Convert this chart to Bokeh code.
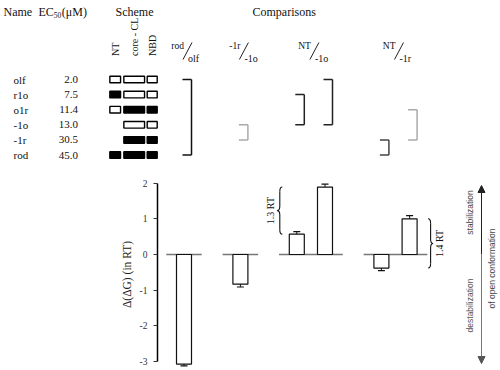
import numpy as np
from bokeh.plotting import figure
from bokeh.models import Range1d, FixedTicker, Arrow, NormalHead
from bokeh.core.properties import value
from bokeh.embed import file_html
from bokeh.resources import INLINE

# ---------------- data ----------------
names = ["olf", "r1o", "o1r", "-1o", "-1r", "rod"]
ec50 = ["2.0", "7.5", "11.4", "13.0", "30.5", "45.0"]
scheme_cols = ["NT", "core - CL", "NBD"]
scheme_nt = ["o", "r", "o", "", "", "r"]       # o = open box, r = filled box, "" = absent
scheme_core = ["o", "o", "r", "o", "r", "r"]
scheme_nbd = ["o", "o", "r", "o", "r", "r"]

comp_num = ["rod", "-1r", "NT", "NT"]
comp_den = ["olf", "-1o", "-1o", "-1r"]
bar_group = [0, 1, 2, 2, 3, 3]
bar_pos = [0, 2, 4, 5, 7, 8]
ddg = [-3.07, -0.83, 0.57, 1.89, -0.38, 1.00]
ddg_err = [0.05, 0.08, 0.07, 0.08, 0.07, 0.09]
bar_rows = [(0, 5), (3, 4), (1, 3), (0, 3), (4, 5), (2, 4)]
y_ticks = [-3, -2, -1, 0, 1, 2]
brace_bars = [(2, 3), (4, 5)]
brace_labels = ["1.3 RT", "1.4 RT"]

# ---------------- layout helpers ----------------
UNIT = 28.2      # px per bar-position unit
X0 = 183.5       # page x of bar position 0
ROW0 = 79.0
ROWH = 15.1
YPX = 35.7       # px per RT
Y0 = 254.0       # page y of zero
W_ALL = 498
H_TOP = 176
H_BOT = 192


def ux(px):
    return (px - X0) / UNIT


def ry(py):
    return -(py - ROW0) / ROWH


def vy(py):
    return (Y0 - py) / YPX


SERIF = value("Liberation Serif")
SANS = value("Liberation Sans")
BW = 15.0 / UNIT

# ---------------- top figure (table / scheme / comparisons) ----------------
top = figure(width=W_ALL, height=H_TOP, x_range=Range1d(ux(0), ux(W_ALL)),
             y_range=Range1d(ry(H_TOP), ry(0)), output_backend="svg",
             toolbar_location=None, x_axis_location=None, y_axis_location=None,
             min_border=0)
top.outline_line_color = None
for g in top.grid:
    g.visible = False


def ttext(fig, x, y, t, size="11px", align="left", baseline="middle", angle=0.0,
          font=SERIF, color="#111111"):
    fig.text(x=[x], y=[y], text=[t], text_font=font, text_font_size=size,
             text_align=align, text_baseline=baseline, angle=angle, text_color=color)


# headers
ttext(top, ux(3), ry(11), "Name", size="12px")
ttext(top, ux(38), ry(11), "EC", size="12px")
ttext(top, ux(38 + 15.3), ry(14), "50", size="7.5px")
ttext(top, ux(38 + 15.3 + 8.0), ry(11), "(μM)", size="12px")
ttext(top, ux(115), ry(11), "Scheme", size="12px")
ttext(top, ux(252), ry(11), "Comparisons", size="12px")

# scheme column geometry (page px)
col_cx = [114.7, 133.7, 151.7]
col_w = [10.7, 20.7, 10.0]
col_data = [scheme_nt, scheme_core, scheme_nbd]

for k, lab in enumerate(scheme_cols):
    ttext(top, ux(col_cx[k]), ry(55.5), lab, size="10px", angle=np.pi / 2)

rows = list(range(len(names)))
top.text(x=[ux(13)] * len(names), y=[-r for r in rows], text=names, text_font=SERIF,
         text_font_size="11px", text_align="left", text_baseline="middle", text_color="#111111")
top.text(x=[ux(77.5)] * len(names), y=[-r for r in rows], text=ec50, text_font=SERIF,
         text_font_size="11px", text_align="right", text_baseline="middle", text_color="#111111")

for k in range(3):
    xs, ys, fills = [], [], []
    for r, s in enumerate(col_data[k]):
        if s:
            xs.append(ux(col_cx[k]))
            ys.append(-r)
            fills.append("white" if s == "o" else "black")
    top.rect(x=xs, y=ys, width=col_w[k] / UNIT, height=6.6 / ROWH, fill_color=fills,
             line_color="black", line_width=1.4)

# comparison headers
group_center = [np.mean([bar_pos[i] for i in range(len(bar_pos)) if bar_group[i] == g])
                for g in range(len(comp_num))]
for g in range(len(comp_num)):
    sx = group_center[g] + 3.5 / UNIT
    ttext(top, sx - 3.5 / UNIT, ry(45), comp_num[g], size="9.5px", align="right")
    ttext(top, sx + 0.5 / UNIT, ry(57.5), comp_den[g], size="10px", align="left")
    top.segment(x0=[sx - 4.5 / UNIT], y0=[ry(59)], x1=[sx + 4.5 / UNIT], y1=[ry(42)],
                line_color="#222222", line_width=1)

# brackets
br_colors = ["#111111", "#aaaaaa", "#222222", "#222222", "#444444", "#aaaaaa"]
TICK = 9.0 / UNIT
for i, (ra, rb) in enumerate(bar_rows):
    xv = bar_pos[i] + BW / 2
    top.segment(x0=[xv, xv - TICK, xv - TICK], y0=[-ra, -ra, -rb],
                x1=[xv, xv, xv], y1=[-rb, -ra, -rb],
                line_color=br_colors[i], line_width=1.5)

# ---------------- bottom figure (bars) ----------------
B_LEFT = 157
B_TOP = 180
bot = figure(width=W_ALL, height=H_BOT, x_range=Range1d(ux(B_LEFT), ux(W_ALL)),
             y_range=Range1d(vy(H_TOP + H_BOT), vy(B_TOP)), output_backend="svg",
             toolbar_location=None, x_axis_location=None, y_axis_location="left",
             min_border_left=B_LEFT, min_border_right=0, min_border_top=B_TOP - H_TOP,
             min_border_bottom=0)
bot.outline_line_color = None
for g in bot.grid:
    g.visible = False

ax = bot.yaxis[0]
ax.ticker = FixedTicker(ticks=y_ticks)
ax.bounds = (min(y_ticks), max(y_ticks))
ax.major_label_overrides = {t: str(t) for t in y_ticks}
ax.axis_line_color = "black"
ax.axis_line_width = 1.5
ax.major_tick_in = 0
ax.major_tick_out = 4
ax.major_tick_line_color = "#333333"
ax.minor_tick_line_color = None
ax.major_label_text_font = "Liberation Serif"
ax.major_label_text_font_size = "9.5px"
ax.major_label_text_color = "#333333"
ax.major_label_standoff = 6
ax.axis_label = "Δ(ΔG) (in RT)"
ax.axis_label_text_font = "Liberation Serif"
ax.axis_label_text_font_size = "11.5px"
ax.axis_label_text_font_style = "normal"
ax.axis_label_text_color = "#222222"
ax.axis_label_standoff = 4

# zero lines per group
for g in range(len(comp_num)):
    ps = [bar_pos[i] for i in range(len(bar_pos)) if bar_group[i] == g]
    bot.segment(x0=[min(ps) - 0.63], y0=[0], x1=[max(ps) + 0.63], y1=[0],
                line_color="#777777", line_width=1.3)

bot.vbar(x=bar_pos, top=ddg, bottom=0, width=BW, fill_color="white",
         line_color="#111111", line_width=1.2)

vals = np.array(ddg)
errs = np.array(ddg_err)
ends = vals + np.sign(vals) * errs
pos = np.array(bar_pos, dtype=float)
bot.segment(x0=pos, y0=vals, x1=pos, y1=ends, line_color="#111111", line_width=1)
CAP = 3.5 / UNIT
bot.segment(x0=pos - CAP, y0=ends, x1=pos + CAP, y1=ends, line_color="#111111", line_width=1.2)

# braces
brace_side = [-1, 1]
brace_gap = [7.0, 11.0]
W = 5.0 / UNIT
R = 4.5 / YPX
for b, (i, j) in enumerate(brace_bars):
    d = brace_side[b]
    y0 = min(ddg[i], ddg[j])
    y1 = max(ddg[i], ddg[j])
    edge = (bar_pos[i] - BW / 2) if d < 0 else (bar_pos[j] + BW / 2)
    xe = edge + d * brace_gap[b] / UNIT
    xs = xe + d * W / 2
    xt = xe + d * W
    ym = (y0 + y1) / 2
    bot.quadratic(x0=[xe, xs, xt, xs], y0=[y1, ym + R, ym, y0 + R],
                  x1=[xs, xt, xs, xe], y1=[y1 - R, ym, ym - R, y0],
                  cx=[xs, xs, xs, xs], cy=[y1, ym, ym, y0],
                  line_color="#111111", line_width=1.1)
    bot.segment(x0=[xs, xs], y0=[y1 - R, ym - R], x1=[xs, xs], y1=[ym + R, y0 + R],
                line_color="#111111", line_width=1.1)
    ttext(bot, xt + d * 6.5 / UNIT, ym, brace_labels[b], size="10px", align="center",
          angle=np.pi / 2)

# right-hand annotation
bot.add_layout(Arrow(end=NormalHead(size=7, fill_color="#222222", line_color="#222222"),
                     x_start=ux(481), y_start=0, x_end=ux(481), y_end=vy(185),
                     line_color="#222222", line_width=1))
bot.add_layout(Arrow(end=NormalHead(size=7, fill_color="#555555", line_color="#555555"),
                     x_start=ux(481), y_start=0, x_end=ux(481), y_end=vy(363),
                     line_color="#777777", line_width=1))
ttext(bot, ux(469), vy(212), "stabilization", size="8.5px", align="center",
      angle=np.pi / 2, font=SANS, color="#444444")
ttext(bot, ux(469), vy(305), "destabilization", size="8.5px", align="center",
      angle=np.pi / 2, font=SANS, color="#555555")
ttext(bot, ux(491), vy(268), "of open conformation", size="8.5px", align="center",
      angle=np.pi / 2, font=SANS, color="#444444")

open("out.html", "w").write(file_html([top, bot], INLINE))
